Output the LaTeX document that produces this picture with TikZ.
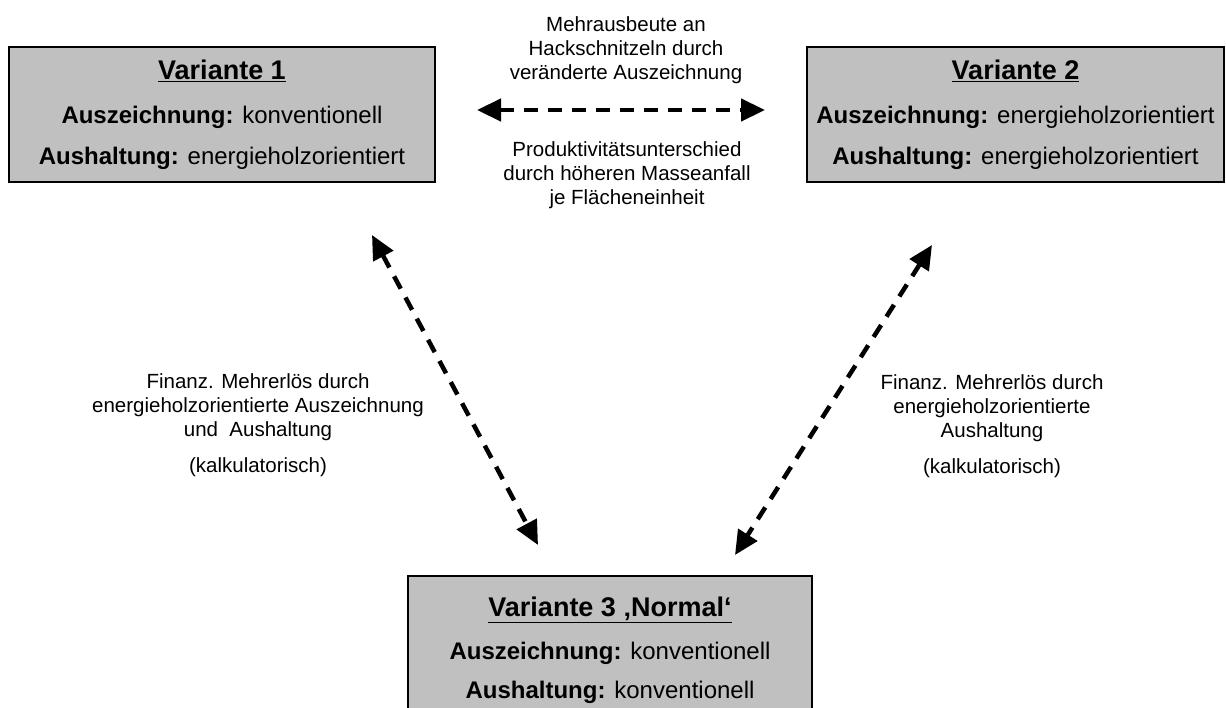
\documentclass[tikz,border=0pt]{standalone}
\usepackage{fontspec}
\setmainfont{Liberation Sans}
\usetikzlibrary{arrows.meta}
\definecolor{boxgray}{HTML}{C0C0C0}

\begin{document}
\begin{tikzpicture}[x=1pt, y=-1pt,
    variant/.style={draw=black, line width=1.5pt, fill=boxgray, align=center,
      inner sep=0pt, font=\fontsize{24}{41}\selectfont},
    note/.style={align=center, inner sep=0pt, font=\fontsize{20.5}{24}\selectfont},
    link/.style={line width=4.5pt, dash pattern=on 14pt off 10pt,
      {Triangle[length=24pt,width=22pt]}-{Triangle[length=24pt,width=22pt]}}]
    \useasboundingbox (0,0) rectangle (1226,707);
    % the three variants
    \node[variant, minimum width=426pt, minimum height=135pt] (var1) at (222,114.5)
      {\underline{\fontsize{27}{41}\selectfont\bfseries Variante 1}\\[3pt]
       \textbf{Auszeichnung:} konventionell\\
       \textbf{Aushaltung:} energieholzorientiert};
    \node[variant, minimum width=417pt, minimum height=135pt] (var2) at (1015.5,114.5)
      {\underline{\fontsize{27}{41}\selectfont\bfseries Variante 2}\\[3pt]
       \textbf{Auszeichnung:} energieholzorientiert\\
       \textbf{Aushaltung:} energieholzorientiert};
    \node[variant, minimum width=404pt, minimum height=148pt] (var3) at (610,650)
      {\underline{\fontsize{27}{41}\selectfont\bfseries Variante 3 ‚Normal‘}\\[2pt]
       \textbf{Auszeichnung:} konventionell\\[-2pt]
       \textbf{Aushaltung:} konventionell};
    % labels
    \node[note] (yield) at (626,50)
      {Mehrausbeute an\\Hackschnitzeln durch\\veränderte Auszeichnung};
    \node[note] (prod) at (627,175)
      {Produktivitätsunterschied\\durch höheren Masseanfall\\je Flächeneinheit};
    \node[note] (rev1) at (258,425)
      {Finanz. Mehrerlös durch\\energieholzorientierte Auszeichnung\\und\ \ Aushaltung\\[12pt](kalkulatorisch)};
    \node[note] (rev2) at (992,426)
      {Finanz. Mehrerlös durch\\energieholzorientierte\\Aushaltung\\[12pt](kalkulatorisch)};
    % arrows
    \coordinate (h1) at (477,110);
    \coordinate (h2) at (765,110);
    \coordinate (l1) at (372,235);
    \coordinate (l2) at (538,545);
    \coordinate (r1) at (932,245);
    \coordinate (r2) at (735,555);
    \draw[link] (h1) -- (h2);
    \draw[link] (l1) -- (l2);
    \draw[link] (r1) -- (r2);
  \end{tikzpicture}
\end{document}
